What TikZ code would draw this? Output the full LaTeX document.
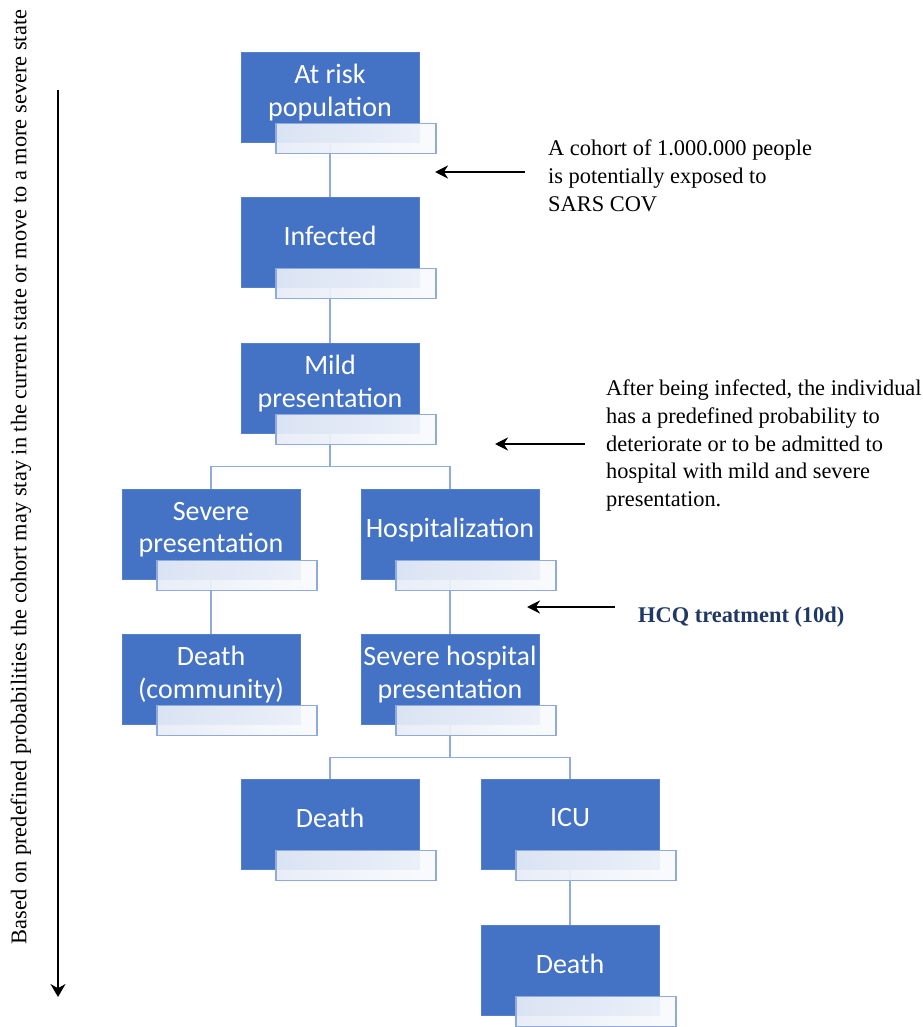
\documentclass[tikz,border=0pt]{standalone}
\usepackage{fontspec}
\setmainfont{Liberation Serif}
\newfontfamily\boxfont{Carlito}
\usepackage{xcolor}
\definecolor{statecolor}{HTML}{4472C4}
\definecolor{linkcolor}{HTML}{8FAADC}
\definecolor{tagleft}{HTML}{E6ECF7}
\definecolor{tagright}{HTML}{FAFBFD}
\definecolor{hcqcolor}{HTML}{1F3864}
\usetikzlibrary{arrows.meta}

\begin{document}
\begin{tikzpicture}[x = 1pt, y = -1pt,
    state/.style = {fill = statecolor, draw = statecolor!90!white, rectangle, minimum width = 178pt, minimum height = 90pt, text = white, align = center, text depth = 13pt, font = \boxfont\fontsize{28}{32.5}\selectfont, inner sep = 0pt},
    tag/.style = {draw = linkcolor, line width = 1.2pt, rectangle, minimum width = 160pt, minimum height = 30pt, left color = tagleft, right color = tagright, fill opacity = 0.93, inner sep = 0pt},
    link/.style = {draw = linkcolor, line width = 1.2pt},
    note/.style = {align = left, anchor = north west, inner sep = 0pt, font = \fontsize{22.4}{27.6}\selectfont},
    pointer/.style = {-{Stealth[length = 13pt, width = 13pt]}, line width = 2.4pt}]

        \useasboundingbox (0, 0) rectangle (922, 1027);

        % States
        \node [state] (a) at (330, 97) {At risk\\population};
        \node [state] (b) at (330, 242) {Infected};
        \node [state] (c) at (330, 388) {Mild\\presentation};
        \node [state] (d) at (211, 534) {Severe\\presentation};
        \node [state] (e) at (450, 534) {Hospitalization};
        \node [state] (f) at (211, 679) {Death\\(community)};
        \node [state] (g) at (450, 679) {Severe hospital\\presentation};
        \node [state] (h) at (330, 824) {Death};
        \node [state] (i) at (570, 824) {ICU};
        \node [state] (j) at (570, 970) {Death};

        % Links
        \draw [link] (a.south) -- (b.north);
        \draw [link] (b.south) -- (c.north);
        \draw [link] (c.south) -- ++(0, 33) -| (d.north);
        \draw [link] (c.south) -- ++(0, 33) -| (e.north);
        \draw [link] (d.south) -- (f.north);
        \draw [link] (e.south) -- (g.north);
        \draw [link] (g.south) -- ++(0, 33) -| (h.north);
        \draw [link] (g.south) -- ++(0, 33) -| (i.north);
        \draw [link] (i.south) -- (j.north);

        % Tags
        \foreach \s in {a, b, c, d, e, f, g, h, i, j}
            \node [tag] (\s2) at ([xshift = 26pt, yshift = 4pt]\s.south) {};

        % Notes
        \node [note] (n1) at (548, 140) {A cohort of 1.000.000 people\\is potentially exposed to\\SARS COV};
        \node [note] (n2) at (606, 380) {After being infected, the individual\\has a predefined probability to\\deteriorate or to be admitted to\\hospital with mild and severe\\presentation.};
        \node [note, text = hcqcolor, font = \bfseries\fontsize{22.4}{27}\selectfont] (n3) at (638, 607) {HCQ treatment (10d)};

        \coordinate (p1) at (525, 172);
        \coordinate (q1) at (435, 172);
        \coordinate (p2) at (585, 444);
        \coordinate (q2) at (495, 444);
        \coordinate (p3) at (615, 607);
        \coordinate (q3) at (527, 607);
        \draw [pointer] (p1) -- (q1);
        \draw [pointer] (p2) -- (q2);
        \draw [pointer] (p3) -- (q3);

        % Time axis
        \node [rotate = 90, font = \fontsize{22.4}{26}\selectfont, inner sep = 0pt] (axis) at (21, 477) {Based on predefined probabilities the cohort may stay in the current state or move to a more severe state};
        \coordinate (t1) at (58, 90);
        \coordinate (t2) at (58, 997);
        \draw [-{Stealth[length = 13pt, width = 15pt]}, line width = 2.8pt] (t1) -- (t2);

\end{tikzpicture}
\end{document}
